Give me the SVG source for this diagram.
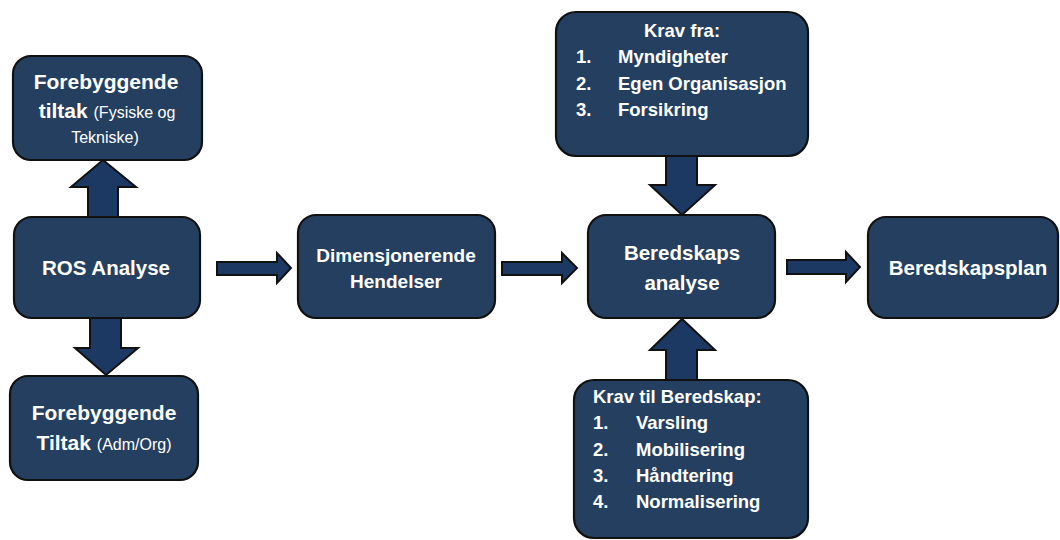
<svg xmlns="http://www.w3.org/2000/svg" width="1060" height="540" viewBox="0 0 1060 540">
  <style>
    .box { fill: #253F60; stroke: #111111; stroke-width: 2.2; }
    .arr { fill: #1C3963; stroke: #111111; stroke-width: 2; stroke-linejoin: miter; }
    text { font-family: "Liberation Sans", Arial, sans-serif; fill: #ffffff; }
    .b { font-weight: bold; }
    .c { text-anchor: middle; }
    .sm { font-weight: normal; font-size: 16px; }
    .li { font-weight: bold; font-size: 18.5px; }
  </style>
  <rect width="1060" height="540" fill="#ffffff"/>

  <g id="connectors">
    <polygon class="arr" points="88,217 88,187 71,187 103,160 136,187 118,187 118,217"/>
    <polygon class="arr" points="90,318 90,348 75,348 106,375 138,348 121,348 121,318"/>
    <polygon class="arr" points="217,262 277,262 277,253 291,268 277,283 277,275 217,275"/>
    <polygon class="arr" points="502,262 562,262 562,253 577,268 562,283 562,275 502,275"/>
    <polygon class="arr" points="787,260 846,260 846,252 860,267 846,282 846,274 787,274"/>
    <polygon class="arr" points="666,156 666,185 650,185 682,215 715,185 697,185 697,156"/>
    <polygon class="arr" points="666,380 666,350 650,350 682,319 715,350 697,350 697,380"/>
  </g>

  <g id="forebyggende-fysiske">
    <rect class="box" x="13" y="56" width="189" height="104" rx="18"/>
    <text class="b c" x="106" y="89" font-size="21">Forebyggende</text>
    <text class="b c" x="107" y="118" font-size="21">tiltak <tspan class="sm">(Fysiske og</tspan></text>
    <text class="c" x="105" y="143" font-size="16">Tekniske)</text>
  </g>

  <g id="ros-analyse">
    <rect class="box" x="14" y="217" width="186" height="101" rx="18"/>
    <text class="b c" x="106" y="275" font-size="20.5">ROS Analyse</text>
  </g>

  <g id="forebyggende-adm">
    <rect class="box" x="10" y="376" width="188" height="104" rx="18"/>
    <text class="b c" x="104" y="420" font-size="21">Forebyggende</text>
    <text class="b c" x="104" y="450" font-size="21">Tiltak <tspan class="sm">(Adm/Org)</tspan></text>
  </g>

  <g id="dimensjonerende">
    <rect class="box" x="298" y="215" width="197" height="103" rx="18"/>
    <text class="b c" x="396" y="262" font-size="19">Dimensjonerende</text>
    <text class="b c" x="396" y="288" font-size="19">Hendelser</text>
  </g>

  <g id="beredskaps-analyse">
    <rect class="box" x="588" y="215" width="187" height="103" rx="18"/>
    <text class="b c" x="682" y="260" font-size="20.5">Beredskaps</text>
    <text class="b c" x="682" y="290" font-size="20.5">analyse</text>
  </g>

  <g id="beredskapsplan">
    <rect class="box" x="868" y="217" width="190" height="101" rx="18"/>
    <text class="b c" x="968" y="275" font-size="20.5">Beredskapsplan</text>
  </g>

  <g id="krav-fra">
    <rect class="box" x="556" y="12" width="252" height="144" rx="20"/>
    <text class="li c" x="682" y="37">Krav fra:</text>
    <text class="li" x="576" y="63">1.</text>
    <text class="li" x="618" y="63">Myndigheter</text>
    <text class="li" x="576" y="90">2.</text>
    <text class="li" x="618" y="90">Egen Organisasjon</text>
    <text class="li" x="576" y="116">3.</text>
    <text class="li" x="618" y="116">Forsikring</text>
  </g>

  <g id="krav-til">
    <rect class="box" x="574" y="380" width="234" height="158" rx="20"/>
    <text class="li" x="593" y="403">Krav til Beredskap:</text>
    <text class="li" x="593" y="429">1.</text>
    <text class="li" x="636" y="429">Varsling</text>
    <text class="li" x="593" y="456">2.</text>
    <text class="li" x="636" y="456">Mobilisering</text>
    <text class="li" x="593" y="482">3.</text>
    <text class="li" x="636" y="482">Håndtering</text>
    <text class="li" x="593" y="508">4.</text>
    <text class="li" x="636" y="508">Normalisering</text>
  </g>
</svg>
